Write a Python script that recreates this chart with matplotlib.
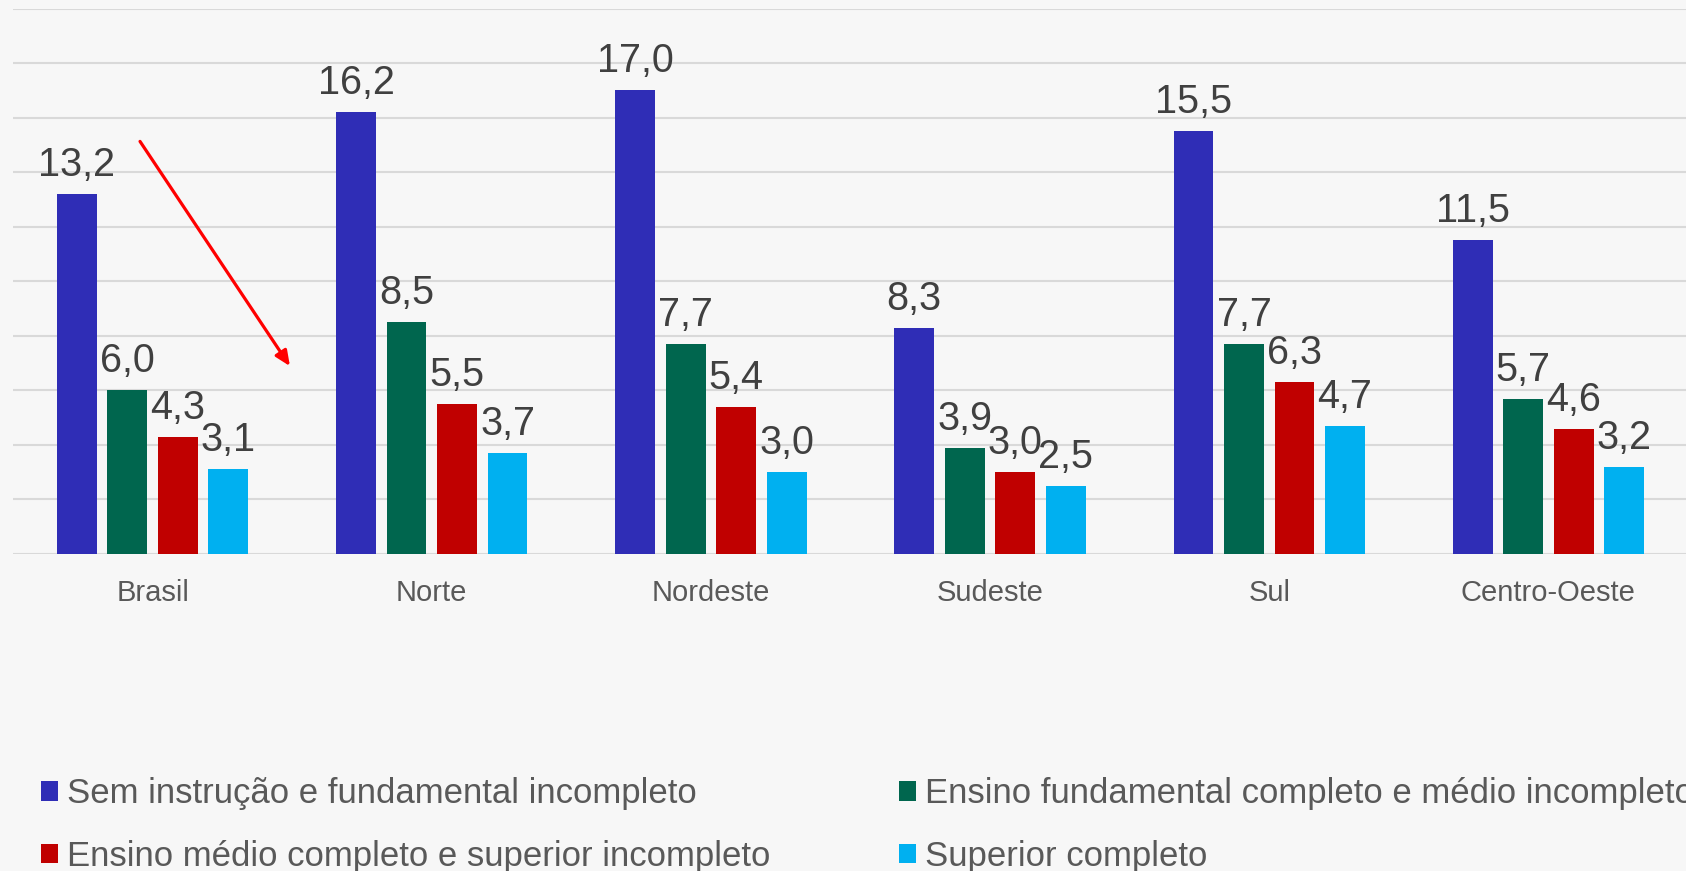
import matplotlib
matplotlib.use("Agg")
import matplotlib.pyplot as plt
from matplotlib.patches import Patch
import numpy as np

plt.rcParams['font.family'] = ['Liberation Sans', 'DejaVu Sans']

regions = ["Brasil", "Norte", "Nordeste", "Sudeste", "Sul", "Centro-Oeste"]
series_names = [
    "Sem instrução e fundamental incompleto",
    "Ensino fundamental completo e médio incompleto",
    "Ensino médio completo e superior incompleto",
    "Superior completo",
]
sem_instrucao = [13.2, 16.2, 17.0, 8.3, 15.5, 11.5]
fund_completo = [6.0, 8.5, 7.7, 3.9, 7.7, 5.7]
medio_completo = [4.3, 5.5, 5.4, 3.0, 6.3, 4.6]
superior = [3.1, 3.7, 3.0, 2.5, 4.7, 3.2]
series = [sem_instrucao, fund_completo, medio_completo, superior]
colors = ["#2f2db6", "#00664e", "#c00000", "#00b0f0"]

W, H = 1686, 871
fig = plt.figure(figsize=(W / 100, H / 100), dpi=100)
bg = "#f7f7f7"
fig.patch.set_facecolor(bg)

ax_left, ax_right = 13 / W, 1688 / W
ax_bottom, ax_top = 1 - 554 / H, 1 - 8.6 / H
ax = fig.add_axes([ax_left, ax_bottom, ax_right - ax_left, ax_top - ax_bottom])
ax.set_facecolor(bg)

x = np.arange(len(regions))
step = 0.181
width = 0.1427
for i, (vals, c) in enumerate(zip(series, colors)):
    pos = x + (i - 1.5) * step
    bars = ax.bar(pos, vals, width=width, color=c, zorder=3)
    for xp, v in zip(pos, vals):
        ax.annotate(f"{v:.1f}".replace(".", ","), xy=(xp, v), xytext=(0, 13.0),
                    textcoords="offset points", ha="center", va="baseline",
                    fontsize=28.5, color="#404040", zorder=4)

ax.set_xlim(-0.5, len(regions) - 0.5)
ax.set_ylim(0, 20)
ax.set_yticks(np.arange(0, 21, 2))
ax.yaxis.grid(True, color="#d9d9d9", linewidth=1.5, zorder=0)
ax.set_yticklabels([])
ax.tick_params(axis="y", length=0)
ax.set_xticks(x)
ax.set_xticklabels(regions, fontsize=21, color="#595959")
ax.tick_params(axis="x", length=0, pad=18)
for s in ax.spines.values():
    s.set_visible(False)

# red arrow annotation
ax.annotate("", xy=(0.492, 6.89), xytext=(-0.045, 15.13),
            arrowprops=dict(arrowstyle="-|>,head_length=0.9,head_width=0.4",
                            color="#ff0000", lw=2.3, shrinkA=0, shrinkB=0),
            zorder=5)

handles = [Patch(facecolor=c, edgecolor="none") for c in colors]
order = [0, 2, 1, 3]
leg = fig.legend([handles[i] for i in order], [series_names[i] for i in order],
                 ncol=2, loc="upper left",
                 bbox_to_anchor=(41 / W, 1 - 777 / H), bbox_transform=fig.transFigure,
                 frameon=False, fontsize=25, handlelength=0.5, handleheight=0.5,
                 handletextpad=0.25, columnspacing=3.7, labelspacing=0.86,
                 borderpad=0, borderaxespad=0)
for t in leg.get_texts():
    t.set_color("#595959")

fig.savefig("out.png", dpi=100, facecolor=bg)
